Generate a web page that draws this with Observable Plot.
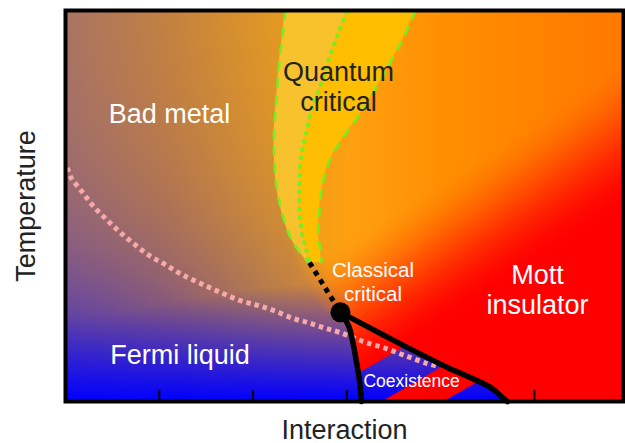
<!DOCTYPE html>
<html><head><meta charset="utf-8">
<script src="https://cdn.jsdelivr.net/npm/d3@7"></script>
<script src="https://cdn.jsdelivr.net/npm/@observablehq/plot@0.6"></script>
<style>html,body{margin:0;padding:0;background:#fff;} svg{display:block}</style>
</head><body><div id="chart"></div>
<script>
// ---- data (interaction U, temperature T; both in arbitrary units) ----
const xDomain = [0, 5.95];
const xTicks = [1, 2, 3, 4, 5];

// quantum-critical band: temperature levels and U of its left / middle / right boundaries
const qcT     = [1.000, 0.936, 0.872, 0.808, 0.744, 0.680, 0.616, 0.552, 0.488, 0.425, 0.386, 0.355];
const qcLeft  = [2.346, 2.314, 2.282, 2.261, 2.239, 2.223, 2.229, 2.250, 2.303, 2.389, 2.485, 2.591];
const qcMid   = [3.007, 2.900, 2.804, 2.719, 2.623, 2.559, 2.506, 2.495, 2.495, 2.527, 2.570, 2.602];
const qcRight = [3.732, 3.615, 3.476, 3.327, 3.167, 2.975, 2.815, 2.740, 2.708, 2.698, 2.719, 2.730];

// classical critical end point
const criticalU = 2.932, criticalT = 0.228;

// spinodal lines bounding the coexistence region
const spLeftT  = [0.228, 0.194, 0.156, 0.105, 0.054, 0.000];
const spLeftU  = [2.932, 3.018, 3.060, 3.100, 3.135, 3.156];
const spRightT = [0.228, 0.174, 0.130, 0.087, 0.061, 0.036, 0.008, 0.000];
const spRightU = [2.932, 3.359, 3.711, 4.073, 4.319, 4.532, 4.671, 4.713];

// Fermi-liquid crossover (pink dotted)
const flU = [0.021,0.053,0.181,0.299,0.448,0.586,0.736,0.896,1.066,1.237,1.440,1.653,1.866,2.047,2.218,2.431,2.581,2.751,2.932,3.178,3.412,3.647,3.860,3.967];
const flT = [0.598,0.575,0.535,0.499,0.463,0.432,0.402,0.373,0.350,0.325,0.302,0.279,0.258,0.246,0.233,0.212,0.202,0.189,0.176,0.153,0.136,0.115,0.097,0.090];

// coexistence stripes: breaks of the stripe coordinate U - 7.22 T
const stripeBreaks = [2.60, 3.37, 4.03];

// background colour stops along U
const baseStopsU = [0, 1.12, 2.19, 3.04, 4.11, 5.95];
const baseStopsColor = ["#ad7660", "#c8843c", "#e59a20", "#ffa010", "#ff8e00", "#ff7800"];
const metalColor = "#0000ff";
const insulatorColor = "#ff0000";

// labels
const phaseLabels = ["Bad metal", "Fermi liquid", "Mott\ninsulator"];
const phaseLabelU = [1.109, 1.221, 5.033];
const phaseLabelT = [0.711, 0.097, 0.225];
const qcLabel = "Quantum\ncritical", qcLabelU = 2.911, qcLabelT = 0.744;
const ccLabel = "Classical\ncritical", ccLabelU = 3.279, ccLabelT = 0.258;
const coLabel = "Coexistence", coLabelU = 3.690, coLabelT = 0.038;
const xTitle = "Interaction", yTitle = "Temperature";

// ---- derived structures ----
const qcRows = qcT.map((T, i) => ({T, left: qcLeft[i], mid: qcMid[i], right: qcRight[i]}));
const spLeftRows = spLeftT.map((T, i) => ({T, U: spLeftU[i]}));
const spRightRows = spRightT.map((T, i) => ({T, U: spRightU[i]}));
const flRows = flT.map((T, i) => ({T, U: flU[i]}));
const widomRows = [{U: qcMid[qcMid.length - 1], T: qcT[qcT.length - 1]}, {U: criticalU, T: criticalT}];
const labelRows = phaseLabels.map((t, i) => ({t, U: phaseLabelU[i], T: phaseLabelT[i]}));

const leftLine = d3.scaleLinear().domain(spLeftT).range(spLeftU).clamp(true);
const rightLine = d3.scaleLinear().domain(spRightT).range(spRightU).clamp(true);
const widomT = [criticalT, ...qcT.slice().reverse()];
const widomU = [criticalU, ...qcMid.slice().reverse()];
const widom = d3.scaleLinear().domain(widomT).range(widomU).clamp(true);

const stops = baseStopsColor.map(c => { const o = d3.rgb(c); return [o.r, o.g, o.b]; });
const BLUE = (o => [o.r, o.g, o.b])(d3.rgb(metalColor));
const RED = (o => [o.r, o.g, o.b])(d3.rgb(insulatorColor));
const clamp01 = v => v < 0 ? 0 : v > 1 ? 1 : v;
const smooth = (a, b, v) => { const t = clamp01((v - a) / (b - a)); return t * t * (3 - 2 * t); };
const mix = (p, q, t) => [p[0] + (q[0] - p[0]) * t, p[1] + (q[1] - p[1]) * t, p[2] + (q[2] - p[2]) * t];
function baseAt(U) {
  let i = d3.bisectRight(baseStopsU, U) - 1;
  i = Math.max(0, Math.min(baseStopsU.length - 2, i));
  const t = clamp01((U - baseStopsU[i]) / (baseStopsU[i + 1] - baseStopsU[i]));
  return mix(stops[i], stops[i + 1], t);
}
function phaseColor(U, T) {
  const b = baseAt(U);
  const radial = Math.exp(-3 * Math.hypot(U / 5.33, T / 0.767));
  const band = Math.pow(Math.max(0, 1 - T / 0.3325), 0.8);
  const metal = mix(b, BLUE, Math.max(radial, band));
  const s = 51.3 * (U - criticalU) - 327.3 * (T - criticalT);
  const ins = mix(b, RED, smooth(-60, 70, s));
  let w;
  if (T >= criticalT) w = clamp01((U - widom(T)) / 0.35 + 0.5);
  else if (U <= leftLine(T)) w = 0;
  else if (U >= rightLine(T)) w = 1;
  else w = d3.bisectRight(stripeBreaks, U - 7.22 * T) % 2 === 0 ? 1 : 0;
  const m = mix(metal, ins, w);
  return `rgb(${Math.round(m[0])},${Math.round(m[1])},${Math.round(m[2])})`;
}

const green = "#77ee22";
const tickLength = 0.028;
const dashed = {strokeLinecap: "butt", strokeLinejoin: "miter", curve: "catmull-rom"};

const plot = Plot.plot({
  width: 625, height: 443,
  marginLeft: 65, marginRight: 2, marginTop: 10, marginBottom: 42,
  x: {domain: xDomain, axis: null},
  y: {domain: [0, 1], axis: null},
  color: {type: "identity"},
  style: {fontFamily: "'Liberation Sans', Arial, sans-serif", background: "#fff"},
  marks: [
    Plot.raster({x1: xDomain[0], x2: xDomain[1], y1: 0, y2: 1, fill: phaseColor}),
    Plot.areaX(qcRows, {y: "T", x1: "left", x2: "mid", fill: "#f9c42e", fillOpacity: 0.95, curve: "catmull-rom"}),
    Plot.areaX(qcRows, {y: "T", x1: "mid", x2: "right", fill: "#ffc000", fillOpacity: 0.95, curve: "catmull-rom"}),
    Plot.ruleX(xTicks.filter(u => u < leftLine(0) || u > rightLine(0)), {y1: 0, y2: tickLength, stroke: "#000", strokeWidth: 2}),
    Plot.line(flRows, {x: "U", y: "T", stroke: "#f7a9a9", strokeWidth: 5, strokeDasharray: "4.5,4", ...dashed}),
    Plot.line(qcRows, {x: "left", y: "T", stroke: green, strokeWidth: 2.6, strokeDasharray: "10,7", ...dashed}),
    Plot.line(qcRows, {x: "right", y: "T", stroke: green, strokeWidth: 2.6, strokeDasharray: "10,7", ...dashed}),
    Plot.line(qcRows, {x: "mid", y: "T", stroke: green, strokeWidth: 4, strokeDasharray: "4,4.5", ...dashed}),
    Plot.line(widomRows, {x: "U", y: "T", stroke: "#000", strokeWidth: 5, strokeDasharray: "5,5", strokeLinecap: "butt"}),
    Plot.line(spLeftRows, {x: "U", y: "T", stroke: "#000", strokeWidth: 5.5, curve: "catmull-rom"}),
    Plot.line(spRightRows, {x: "U", y: "T", stroke: "#000", strokeWidth: 5.5, curve: "catmull-rom"}),
    Plot.dot([{U: criticalU, T: criticalT}], {x: "U", y: "T", r: 10, fill: "#000"}),
    Plot.text(labelRows, {x: "U", y: "T", text: "t", fill: "#fff", fontSize: 27, lineHeight: 1.11, lineAnchor: "bottom"}),
    Plot.text([qcLabel], {x: () => qcLabelU, y: () => qcLabelT, text: d => d, fill: "#222", fontSize: 27, lineHeight: 1.11, lineAnchor: "bottom"}),
    Plot.text([ccLabel], {x: () => ccLabelU, y: () => ccLabelT, text: d => d, fill: "#fff", fontSize: 20.5, lineHeight: 1.17, lineAnchor: "bottom"}),
    Plot.text([coLabel], {x: () => coLabelU, y: () => coLabelT, text: d => d, fill: "#fff", fontSize: 17.5, lineAnchor: "bottom"}),
    Plot.frame({stroke: "#000", strokeWidth: 4}),
    Plot.text([xTitle], {frameAnchor: "bottom", text: d => d, textAnchor: "middle", lineAnchor: "bottom", dy: 37, fill: "#222", fontSize: 27}),
    Plot.text([yTitle], {frameAnchor: "left", text: d => d, rotate: -90, textAnchor: "middle", lineAnchor: "bottom", dx: -31, fill: "#222", fontSize: 27})
  ]
});
document.getElementById("chart").append(plot);
</script>
</body></html>
